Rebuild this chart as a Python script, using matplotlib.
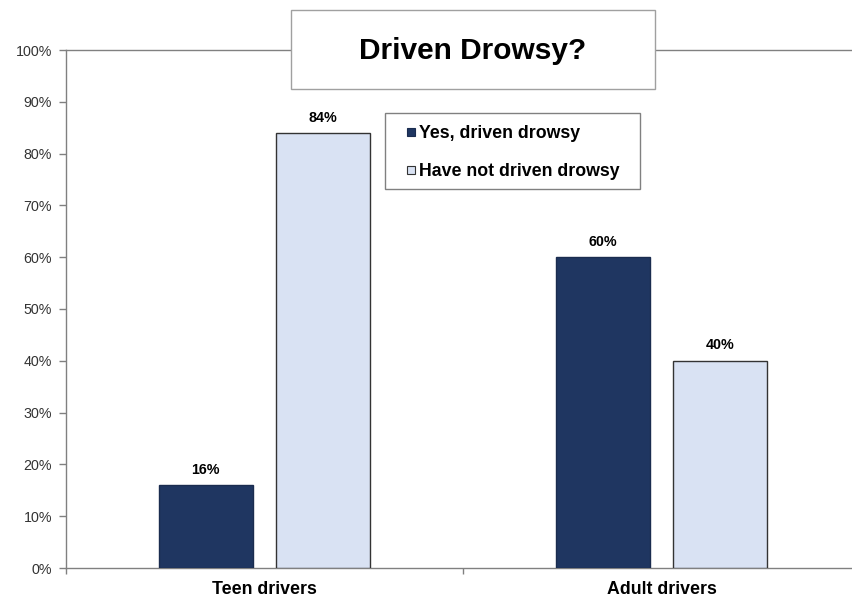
import numpy as np
import matplotlib.pyplot as plt
from matplotlib.patches import Rectangle
from matplotlib.ticker import FuncFormatter

plt.rcParams['font.family'] = ['Liberation Sans', 'DejaVu Sans']

groups = ['Teen drivers', 'Adult drivers']
series = ['Yes, driven drowsy', 'Have not driven drowsy']
yes_vals = [16, 60]
no_vals = [84, 40]
colors = ['#1f3661', '#d9e2f3']
edges = ['#1a2c4f', '#333333']

W, H = 853, 598
fig = plt.figure(figsize=(W / 100, H / 100), dpi=100)
# plot area in pixels: left 66, right 860, top 50, bottom 568
ax = fig.add_axes([66 / W, 1 - 568 / H, (860 - 66) / W, (568 - 50) / H])

x = np.arange(len(groups))
bw = 0.237
off = 0.148
b1 = ax.bar(x - off, yes_vals, bw, color=colors[0], edgecolor=edges[0], linewidth=1.0, zorder=3)
b2 = ax.bar(x + off, no_vals, bw, color=colors[1], edgecolor=edges[1], linewidth=1.0, zorder=3)

for bars, vals in [(b1, yes_vals), (b2, no_vals)]:
    for r, v in zip(bars, vals):
        ax.annotate(f'{v}%', (r.get_x() + r.get_width() / 2, v), xytext=(0, 6),
                    textcoords='offset points', ha='center', va='bottom',
                    fontsize=10.3, fontweight='bold')

ax.set_xlim(-0.5, 1.5)
ax.set_ylim(0, 100)
ax.set_yticks(np.arange(0, 101, 10))
ax.yaxis.set_major_formatter(FuncFormatter(lambda v, p: f'{int(v)}%'))
ax.tick_params(axis='y', labelsize=10.3, labelcolor='#333333', color='#808080',
               length=5, width=1, direction='out', pad=5)

# category labels centred, ticks on group boundaries
ax.set_xticks([-0.5, 0.5, 1.5])
ax.set_xticklabels([])
ax.set_xticks(x, minor=True)
ax.set_xticklabels(groups, minor=True, fontsize=12.8, fontweight='bold')
ax.tick_params(axis='x', which='minor', length=0, pad=9)
ax.tick_params(axis='x', which='major', color='#808080', length=4, width=1)

for s in ['left', 'bottom', 'top']:
    ax.spines[s].set_color('#808080')
    ax.spines[s].set_linewidth(1)
ax.spines['right'].set_visible(False)

# title box
fig.patches.append(Rectangle((291 / W, 1 - 89 / H), (655 - 291) / W, 79 / H,
                             transform=fig.transFigure, facecolor='white',
                             edgecolor='#a0a0a0', linewidth=1, zorder=2))
fig.text((291 + 655) / 2 / W, 1 - 51 / H, 'Driven Drowsy?', ha='center', va='center',
         fontsize=21.5, fontweight='bold', zorder=5)

# legend box
fig.patches.append(Rectangle((385 / W, 1 - 189 / H), (640 - 385) / W, 76 / H,
                             transform=fig.transFigure, facecolor='white',
                             edgecolor='#808080', linewidth=1, zorder=2))
for i, name in enumerate(series):
    yc = 132 + 38 * i
    fig.patches.append(Rectangle((407 / W, 1 - (yc + 4) / H), 8 / W, 8 / H,
                                 transform=fig.transFigure, facecolor=colors[i],
                                 edgecolor=edges[i], linewidth=0.8, zorder=3))
    fig.text(419 / W, 1 - yc / H, name, ha='left', va='center_baseline',
             fontsize=12.8, fontweight='bold', zorder=5)

fig.savefig('out.png', dpi=100)
